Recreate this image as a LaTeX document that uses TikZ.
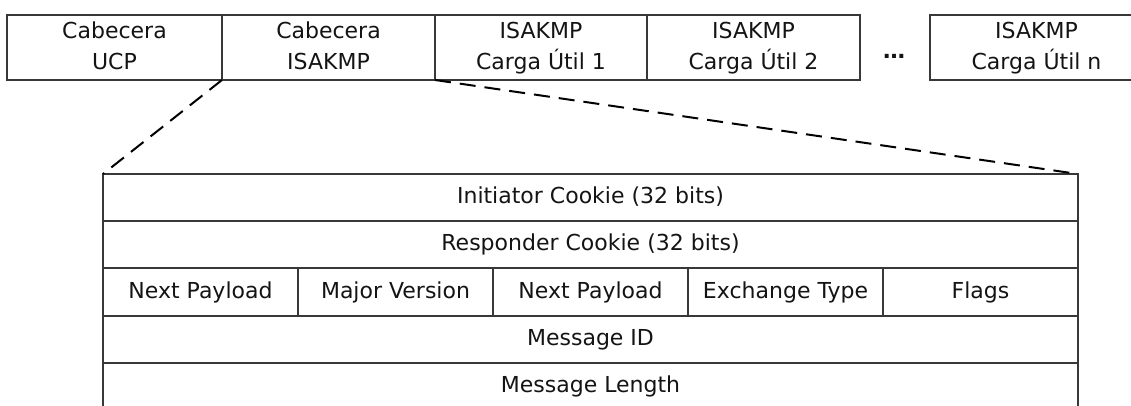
\documentclass[tikz,border=0pt]{standalone}
\usepackage{fontspec}
\setmainfont{DejaVu Sans}
\definecolor{rule}{HTML}{383838}
\definecolor{ink}{HTML}{141414}
\newcommand{\twolines}[2]{#1\strut\\#2\strut}
\begin{document}
\begin{tikzpicture}[x=1bp,y=-1bp,
  every node/.style={text=ink},
  field/.style={draw=rule, line width=1.3bp, outer sep=0pt, inner sep=0pt,
    font=\fontsize{22bp}{31bp}\selectfont},
  topcell/.style={field, align=center, minimum height=65bp},
  rowcell/.style={field, minimum height=47bp, text height=16bp, text depth=4bp},
  zoomline/.style={draw=black, line width=2bp, dash pattern=on 16bp off 9bp}]
  \useasboundingbox (0,0) rectangle (1131,405);
  \fill[white] (0,0) rectangle (1131,405);
  \clip (0,0) rectangle (1131,405);

  % packet: outer headers and payloads
  \node[topcell, minimum width=215bp] (udp) at (114.5,47.5) {\twolines{Cabecera}{UCP}};
  \node[topcell, minimum width=213bp] (isa) at (328.5,47.5) {\twolines{Cabecera}{ISAKMP}};
  \node[topcell, minimum width=212bp] (pl1) at (541,47.5) {\twolines{ISAKMP}{Carga Útil 1}};
  \node[topcell, minimum width=213bp] (pl2) at (753.5,47.5) {\twolines{ISAKMP}{Carga Útil 2}};
  \node[font=\bfseries\fontsize{22bp}{31bp}\selectfont, inner sep=0pt, anchor=base] (dots) at (894,58.5) {…};
  \node[topcell, minimum width=213bp] (pln) at (1036.5,47.5) {\twolines{ISAKMP}{Carga Útil n}};

  % expanded ISAKMP header
  \node[rowcell, minimum width=975bp] (init) at (590.5,197.5) {Initiator Cookie (32 bits)};
  \node[rowcell, minimum width=975bp] (resp) at (590.5,244.5) {Responder Cookie (32 bits)};
  \node[rowcell, minimum width=195bp, minimum height=48bp] (np1) at (200.5,292) {Next Payload};
  \node[rowcell, minimum width=195bp, minimum height=48bp] (mjv) at (395.5,292) {Major Version};
  \node[rowcell, minimum width=195bp, minimum height=48bp] (np2) at (590.5,292) {Next Payload};
  \node[rowcell, minimum width=195bp, minimum height=48bp] (ext) at (785.5,292) {Exchange Type};
  \node[rowcell, minimum width=195bp, minimum height=48bp] (flg) at (980.5,292) {Flags};
  \node[rowcell, minimum width=975bp] (mid) at (590.5,339.5) {Message ID};
  \node[rowcell, minimum width=975bp] (mlen) at (590.5,386.5) {Message Length};

  % zoom lines from the header to its expansion
  \draw[zoomline] (isa.south west) -- (init.north west);
  \draw[zoomline] (isa.south east) -- (init.north east);
\end{tikzpicture}
\end{document}
